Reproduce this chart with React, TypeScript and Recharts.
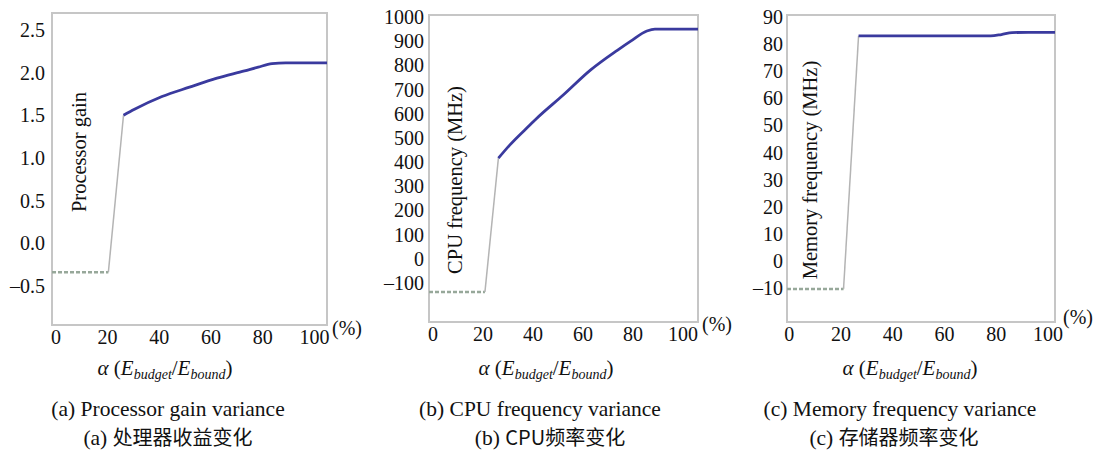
import React from 'react';
import { LineChart, Line, XAxis, YAxis, ReferenceArea } from 'recharts';

// ---------- shared ----------
const alphaTicks = [0, 20, 40, 60, 80, 100];
const frameTicksX = [20, 40, 60, 80];

// ---------- (a) Processor gain ----------
const gainLowAlpha = [0, 20.5];
const gainLowValue = [-0.34, -0.34];
const gainAlpha = [26, 30, 40, 50, 60, 70, 75, 80, 85, 90, 100];
const gainValue = [1.5, 1.57, 1.72, 1.83, 1.935, 2.02, 2.065, 2.105, 2.115, 2.115, 2.115];
const gainTicks = [-0.5, 0, 0.5, 1, 1.5, 2, 2.5];

// ---------- (b) CPU frequency ----------
const cpuLowAlpha = [0, 20.8];
const cpuLowValue = [-137, -137];
const cpuAlpha = [25.8, 30, 37.5, 40, 50, 60, 70, 75, 81, 84, 90, 100];
const cpuValue = [416, 470, 553, 580, 678, 780, 862, 900, 942, 950, 950, 950];
const cpuTicks = [-100, 0, 100, 200, 300, 400, 500, 600, 700, 800, 900, 1000];

// ---------- (c) Memory frequency ----------
const memLowAlpha = [0, 21.1];
const memLowValue = [-10.3, -10.3];
const memAlpha = [26.7, 40, 60, 76, 80, 84, 90, 100];
const memValue = [83.0, 83.0, 83.0, 83.0, 83.5, 84.2, 84.3, 84.3];
const memTicks = [-10, 0, 10, 20, 30, 40, 50, 60, 70, 80, 90];

type Pt = { x: number; y: number };
const toPts = (xs: number[], ys: number[]): Pt[] => xs.map((x, i) => ({ x, y: ys[i] }));

const SERIF = "'Liberation Serif', 'Times New Roman', serif";
const CJK = "'Noto Sans CJK SC', sans-serif";

const fmtDec = (v: number) => (v < 0 ? '\u2013' : '') + Math.abs(v).toFixed(1);
const fmtInt = (v: number) => (v < 0 ? '\u2013' : '') + String(Math.abs(v));
const blank = () => '';

type PanelProps = {
  left: number;
  width: number;
  yWidth: number;
  top: number;
  right: number;
  bottom: number;
  yDomain: [number, number];
  yTicks: number[];
  yFmt: (v: number) => string;
  yMargin: number;
  labelDomain: [number, number];
  low: Pt[];
  main: Pt[];
};

const H = 360;
const FRAME = '#c6c6c6';

function Panel(p: PanelProps) {
  const jump = [p.low[p.low.length - 1], p.main[0]];
  return (
    <div style={{ position: 'absolute', left: p.left, top: 0 }}>
      <LineChart
        width={p.width}
        height={H}
        margin={{ top: p.top, right: p.right, bottom: p.bottom, left: 0 }}
      >
        <XAxis xAxisId="main" type="number" dataKey="x" domain={[0, 100]} allowDataOverflow hide />
        <XAxis
          xAxisId="top"
          orientation="top"
          type="number"
          dataKey="x"
          domain={[0, 100]}
          ticks={frameTicksX}
          interval={0}
          allowDataOverflow
          mirror
          height={0}
          axisLine={false}
          tickLine={{ stroke: FRAME, strokeWidth: 1.5 }}
          tickSize={4}
          tickFormatter={blank}
        />
        <XAxis
          xAxisId="lbl"
          type="number"
          dataKey="x"
          domain={p.labelDomain}
          ticks={alphaTicks}
          interval={0}
          allowDataOverflow
          axisLine={false}
          tickLine={false}
          tickSize={0}
          tickMargin={5}
          height={30}
          tick={{ fontFamily: SERIF, fontSize: 20, fill: '#111' }}
        />
        <YAxis
          type="number"
          dataKey="y"
          domain={p.yDomain}
          ticks={p.yTicks}
          interval={0}
          allowDataOverflow
          axisLine={false}
          tickLine={false}
          tickSize={0}
          tickMargin={p.yMargin}
          width={p.yWidth}
          tickFormatter={p.yFmt}
          tick={{ fontFamily: SERIF, fontSize: 20, fill: '#111' }}
        />
        <YAxis
          yAxisId="r"
          orientation="right"
          type="number"
          dataKey="y"
          domain={p.yDomain}
          ticks={p.yTicks}
          interval={0}
          allowDataOverflow
          mirror
          width={0}
          axisLine={false}
          tickLine={{ stroke: FRAME, strokeWidth: 1.5 }}
          tickSize={4}
          tickFormatter={blank}
        />
        <ReferenceArea
          xAxisId="main"
          x1={0}
          x2={100}
          y1={p.yDomain[0]}
          y2={p.yDomain[1]}
          fill="none"
          stroke={FRAME}
          strokeWidth={2}
          ifOverflow="visible"
        />
        <Line
          xAxisId="main"
          data={p.low}
          dataKey="y"
          type="linear"
          stroke="#97a89a"
          strokeWidth={2.5}
          strokeDasharray="4 2"
          dot={false}
          isAnimationActive={false}
        />
        <Line
          xAxisId="main"
          data={jump}
          dataKey="y"
          type="linear"
          stroke="#b4b4b4"
          strokeWidth={1.5}
          dot={false}
          isAnimationActive={false}
        />
        <Line
          xAxisId="main"
          data={p.main}
          dataKey="y"
          type="monotone"
          stroke="#3a3a9e"
          strokeWidth={2.8}
          dot={false}
          isAnimationActive={false}
        />
      </LineChart>
    </div>
  );
}

const abs = (x: number, y: number, extra: React.CSSProperties = {}): React.CSSProperties => ({
  position: 'absolute',
  left: x,
  top: y,
  transform: 'translate(-50%, -50%)',
  whiteSpace: 'nowrap',
  fontFamily: SERIF,
  fontSize: 20,
  color: '#111',
  lineHeight: 1,
  ...extra,
});

function YLabel({ x, y, text }: { x: number; y: number; text: string }) {
  return (
    <div style={abs(x, y, { fontSize: 20.5, transform: 'translate(-50%, -50%) rotate(-90deg)' })}>
      {text}
    </div>
  );
}

function AlphaLabel({ x, y }: { x: number; y: number }) {
  const sub: React.CSSProperties = { fontSize: 14, fontStyle: 'italic', verticalAlign: '-0.3em' };
  return (
    <div style={abs(x, y, { fontSize: 21 })}>
      <i>α</i> (<i>E</i>
      <span style={sub}>budget</span>/<i>E</i>
      <span style={sub}>bound</span>)
    </div>
  );
}

function Caption({ x, y, en }: { x: number; y: number; en: string }) {
  return <div style={abs(x, y, { fontSize: 21.5 })}>{en}</div>;
}

function CaptionZh({ x, y, tag, zh }: { x: number; y: number; tag: string; zh: string }) {
  return (
    <div style={abs(x, y, { fontSize: 21.5 })}>
      {tag}&nbsp;<span style={{ fontFamily: CJK, fontSize: 20 }}>{zh}</span>
    </div>
  );
}

export default function App() {
  return (
    <div
      style={{
        position: 'absolute',
        left: 0,
        top: 0,
        width: 1103,
        height: 458,
        background: '#fff',
        overflow: 'hidden',
      }}
    >
      <Panel
        left={0}
        width={370}
        yWidth={52}
        top={13}
        right={43}
        bottom={H - 325 - 30}
        yDomain={[-0.96, 2.7]}
        yTicks={gainTicks}
        yFmt={fmtDec}
        yMargin={7}
        labelDomain={[-1.5, 104.8]}
        low={toPts(gainLowAlpha, gainLowValue)}
        main={toPts(gainAlpha, gainValue)}
      />
      <Panel
        left={370}
        width={370}
        yWidth={59}
        top={15}
        right={42}
        bottom={H - 322 - 30}
        yDomain={[-261.5, 1008]}
        yTicks={cpuTicks}
        yFmt={fmtInt}
        yMargin={5}
        labelDomain={[-1.6, 106]}
        low={toPts(cpuLowAlpha, cpuLowValue)}
        main={toPts(cpuAlpha, cpuValue)}
      />
      <Panel
        left={740}
        width={363}
        yWidth={47}
        top={15}
        right={48}
        bottom={H - 322 - 30}
        yDomain={[-22.5, 90.7]}
        yTicks={memTicks}
        yFmt={fmtInt}
        yMargin={4}
        labelDomain={[-0.9, 102.7]}
        low={toPts(memLowAlpha, memLowValue)}
        main={toPts(memAlpha, memValue)}
      />

      <YLabel x={79} y={152} text="Processor gain" />
      <YLabel x={455} y={180} text="CPU frequency (MHz)" />
      <YLabel x={810} y={170} text="Memory frequency (MHz)" />

      <div style={abs(347, 328)}>(%)</div>
      <div style={abs(717, 324)}>(%)</div>
      <div style={abs(1078, 317)}>(%)</div>

      <AlphaLabel x={165} y={370} />
      <AlphaLabel x={546} y={370} />
      <AlphaLabel x={910} y={370} />

      <Caption x={168} y={410} en="(a) Processor gain variance" />
      <Caption x={540} y={410} en="(b) CPU frequency variance" />
      <Caption x={900} y={410} en="(c) Memory frequency variance" />

      <CaptionZh x={168} y={438} tag="(a)" zh="处理器收益变化" />
      <CaptionZh x={550} y={438} tag="(b)" zh="CPU频率变化" />
      <CaptionZh x={894} y={438} tag="(c)" zh="存储器频率变化" />
    </div>
  );
}
